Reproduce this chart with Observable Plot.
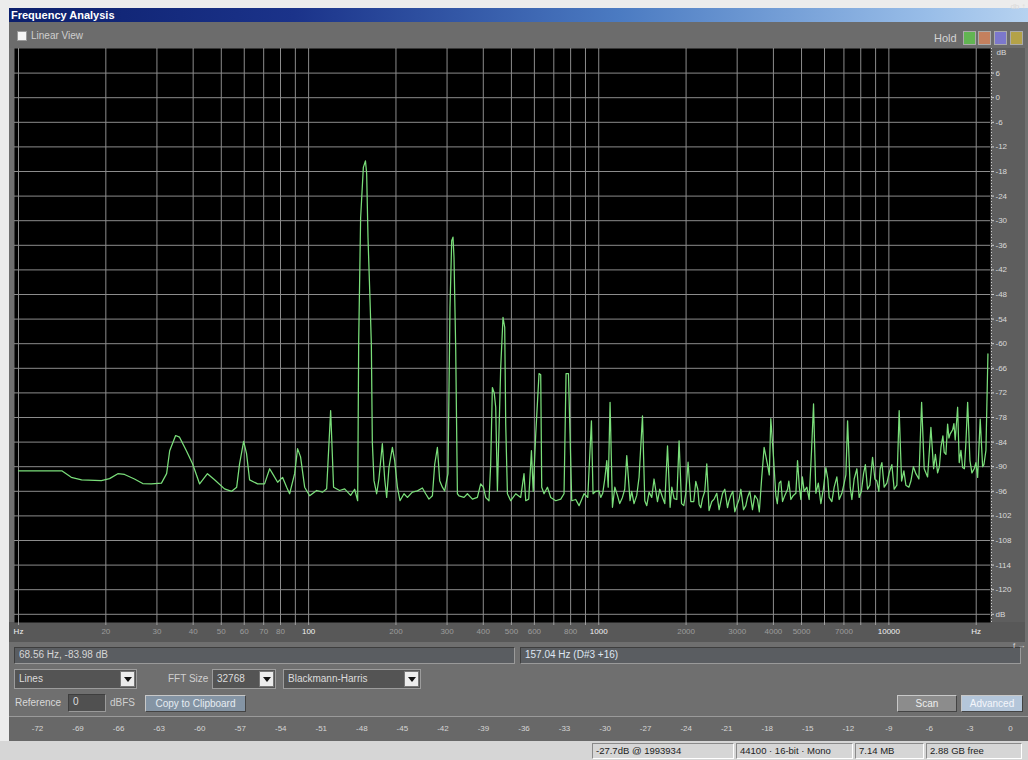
<!DOCTYPE html>
<html><head><meta charset="utf-8">
<script src="https://cdn.jsdelivr.net/npm/d3@7"></script>
<script src="https://cdn.jsdelivr.net/npm/@observablehq/plot@0.6"></script>
<style>
*{box-sizing:border-box}
html,body{margin:0;padding:0}
body{width:1028px;height:760px;overflow:hidden;position:relative;background:#ececec;font-family:"Liberation Sans",Arial,sans-serif;font-size:10px;color:#d4d4d4}
.a{position:absolute}
#win{left:9px;top:8px;width:1019px;height:733px;background:#6f6f6f}
#title{left:9px;top:8px;width:1019px;height:14px;background:linear-gradient(to right,#0c1f6c 0%,#1b338a 28%,#4b7bc2 60%,#98bde8 90%,#b6d2f0 100%);color:#fff;font-weight:bold;font-size:11px;line-height:14px;padding-left:2px}
#tool{left:9px;top:22px;width:1019px;height:26px;background:#6c6c6c}
.chk{left:17px;top:31px;width:10px;height:10px;background:#f4f4f4;border:1px solid #9a9a9a}
.lbl{white-space:nowrap;line-height:12px}
.hb{top:31px;width:13px;height:14px;border:1px solid #aaa}
#rstrip{left:990px;top:48px;width:35px;height:575px;background:#5e5e5e}
#xstrip{left:9px;top:622px;width:1016px;height:20px;background:#585858}
.box{background:#5a5d61;border-top:1px solid #3e3e3e;border-left:1px solid #3e3e3e;border-bottom:1px solid #9a9a9a;border-right:1px solid #9a9a9a;padding-left:4px;line-height:14px;white-space:nowrap}
.dd{height:20px;background:#545454;border:1px solid #9c9c9c;padding-left:4px;line-height:18px;color:#dcdcdc;white-space:nowrap}
.arr{position:absolute;right:1px;top:1px;width:15px;height:16px;background:#ececec;border:1px solid #777}
.arr:after{content:"";position:absolute;left:3px;top:5px;border-left:4px solid transparent;border-right:4px solid transparent;border-top:5px solid #111}
.btn{height:17px;line-height:15px;text-align:center;white-space:nowrap;border-top:1px solid #c8c8c8;border-left:1px solid #c8c8c8;border-bottom:1px solid #444;border-right:1px solid #444}
#meterrow{left:9px;top:716px;width:1019px;height:25px;background:#686868;border-top:1px solid #9a9a9a}
#status{left:0;top:741px;width:1028px;height:19px;background:#d6d6d6}
.sp{top:743px;height:16px;border-top:1px solid #8a8a8a;border-left:1px solid #8a8a8a;border-bottom:1px solid #fff;border-right:1px solid #fff;color:#222;padding-left:3px;line-height:14px;white-space:nowrap;font-size:9.5px}
#chart,#meter{left:0}
#chart{top:0}
#meter{top:717px}
</style></head><body>
<div class="a" id="win"></div>
<div class="a" id="rstrip"></div>
<div class="a" id="xstrip"></div>
<div class="a" id="title">Frequency Analysis</div>
<div class="a" id="tool"></div>
<div class="a chk"></div>
<div class="a lbl" style="left:31px;top:30px;color:#cfcfcf">Linear View</div>
<div class="a lbl" style="left:934px;top:32px;color:#d4d4d4;font-size:11px">Hold</div>
<div class="a hb" style="left:963px;background:#62b552"></div>
<div class="a hb" style="left:978px;background:#c4805e"></div>
<div class="a hb" style="left:994px;background:#7c78cc"></div>
<div class="a hb" style="left:1010px;background:#b4a248"></div>

<div class="a box" style="left:14px;top:647px;width:501px;height:17px;color:#d6d6d6">68.56 Hz, -83.98 dB</div>
<div class="a box" style="left:520px;top:647px;width:501px;height:17px;color:#dfe6f2">157.04 Hz (D#3 +16)</div>

<div class="a dd" style="left:14px;top:669px;width:123px">Lines<span class="arr"></span></div>
<div class="a lbl" style="left:168px;top:673px;color:#d0d0d0">FFT Size</div>
<div class="a dd" style="left:212px;top:669px;width:64px">32768<span class="arr"></span></div>
<div class="a dd" style="left:283px;top:669px;width:138px">Blackmann-Harris<span class="arr"></span></div>

<div class="a lbl" style="left:15px;top:697px;color:#d8d8d8">Reference</div>
<div class="a box" style="left:68px;top:694px;width:38px;height:18px;background:#505050;color:#ddd">0</div>
<div class="a lbl" style="left:110px;top:697px;color:#d0d0d0">dBFS</div>
<div class="a btn" style="left:145px;top:695px;width:101px;background:#8494a4;color:#e6ecf2">Copy to Clipboard</div>
<div class="a btn" style="left:897px;top:695px;width:60px;background:#8c8c8c;color:#eeeeee">Scan</div>
<div class="a btn" style="left:961px;top:695px;width:62px;background:#b4c6da;color:#f4f6fa">Advanced</div>

<div class="a" id="meterrow"></div>
<div class="a" id="status"></div>
<div class="a sp" style="left:592px;width:142px">-27.7dB @ 1993934</div>
<div class="a sp" style="left:736px;width:117px">44100 · 16-bit · Mono</div>
<div class="a sp" style="left:855px;width:69px">7.14 MB</div>
<div class="a sp" style="left:926px;width:96px">2.88 GB free</div>

<div class="a" id="chart"></div>
<div class="a" id="meter"></div>
<script>
// Spectrum (Hz, dB)
const freqHz = [10, 14.1, 15.2, 16.5, 19.3, 20.6, 22.0, 23.2, 25.1, 26.8, 28.7, 31.1, 32.4, 33.2, 34.8, 35.9, 37.9, 39.8, 42.1, 44.8, 47.4, 51.3, 54.3, 56.5, 57.8, 59.7, 61.1, 62.6, 66.7, 70.5, 73.4, 75.1, 78.2, 81.3, 84.0, 86.0, 89.5, 91.6, 93.8, 96.9, 100.8, 106.6, 111.8, 115.4, 119.1, 121.9, 127.9, 133.1,
139.6, 144.1, 147.6, 148.8, 151.1, 154.4, 157.0, 158.5, 160.2, 162.7, 164.5, 165.8, 168.0, 171.6, 174.7, 179.5, 182.9, 185.8, 189.2, 194.4, 198.0, 202.3, 206.5, 213.2, 218.9, 227.8, 237.1, 246.7, 253.2, 259.9, 267.1, 272.0, 277.9, 283.0, 289.1, 294.4, 302.2, 307.1, 311.3, 314.5, 317.0, 321.3, 325.7, 329.9, 343.2, 352.6, 366.9, 381.7, 391.8, 400.3, 407.7, 418.5, 424.2, 429.9, 436.2, 441.4, 447.4, 459.3, 467.7, 474.1, 477.9, 484.4, 497.3, 517.4, 538.3, 552.6, 560.2, 573.7, 586.1, 594.5, 606.5, 622.5, 631.0, 636.0, 647.8, 665.5, 683.2, 710.8, 739.6, 759.2, 771.4, 786.3, 796.2, 807.1, 833.1, 855.3, 890.0, 916.4, 943.6, 955.6, 976.5, 1002,
1032, 1066, 1078, 1094, 1115, 1160, 1207, 1249, 1282, 1323, 1377, 1415, 1441, 1491, 1551, 1594, 1659, 1726, 1762, 1819, 1892, 1929, 1995, 2032, 2076, 2160, 2218, 2278, 2357, 2400, 2498, 2599, 2671, 2779, 2853, 2944, 3046, 3155, 3257, 3388, 3526, 3639, 3715, 3817, 3918, 4003, 4077, 4186, 4300, 4475, 4594, 4780,
4844, 4973, 5105, 5312, 5413, 5500, 5602, 5829, 6065, 6225, 6478, 6739, 7014, 7206, 7356, 7592, 7901, 8180, 8444, 8786, 9091, 9333, 9634, 10023, 10430, 10852, 11062, 11445, 11911, 12392, 12691, 12968, 13237, 13599, 13960, 14263, 14723, 15115, 15516, 15940, 16273, 16587, 16932, 17258, 17479, 17957, 18434, 18686, 19029, 19687, 20227, 20646, 21045, 21605, 21951];
const levelDb = [-91.0, -91.0, -92.6, -93.2, -93.4, -92.9, -91.7, -91.9, -93.0, -94.1, -94.2, -94.0, -91.7, -86.1, -82.4, -82.8, -86.1, -89.3, -94.2, -91.7, -93.2, -95.4, -96.0, -95.0, -89.3, -83.8, -86.8, -93.2, -94.2, -94.2, -90.5, -91.7, -93.8, -92.6, -95.0, -96.6, -91.7, -85.6, -87.6, -95.0, -97.1, -95.8, -96.2, -95.4, -76.3, -95.0, -95.8, -95.4,
-97.0, -95.5, -98.3, -59.3, -29.3, -17.0, -15.4, -18.5, -34.1, -48.8, -60.0, -84.0, -93.4, -96.6, -93.0, -84.4, -93.0, -97.5, -90.2, -85.3, -88.6, -95.0, -98.3, -96.6, -97.5, -96.2, -95.9, -95.2, -96.6, -97.9, -97.1, -89.4, -85.3, -93.4, -95.0, -95.9, -91.7, -51.2, -34.9, -34.0, -38.9, -60.9, -96.6, -97.1, -97.5, -96.6, -97.9, -97.5, -94.2, -95.0, -97.5, -98.3, -89.4, -70.7, -72.0, -75.5, -95.9, -65.8, -53.6, -56.0, -79.6, -96.6, -98.3, -96.6, -97.5, -91.7, -98.3, -97.9, -86.1, -96.0, -82.0, -67.3, -67.6, -95.0, -96.6, -95.0, -97.5, -98.3, -97.9, -96.6, -67.3, -67.3, -82.0, -98.3, -98.0, -99.5, -96.6, -97.5, -78.8, -96.6, -96.0, -95.9,
-96.5, -88.5, -95.0, -74.3, -99.9, -97.0, -97.5, -87.3, -98.3, -99.0, -92.6, -77.6, -98.3, -96.2, -93.0, -98.5, -97.5, -84.9, -99.9, -97.8, -83.7, -99.0, -96.5, -88.9, -98.5, -93.6, -99.2, -97.8, -89.3, -100.7, -97.9, -100.5, -96.5, -100.0, -97.0, -101.0, -98.0, -100.5, -97.5, -100.5, -98.0, -93.4, -85.3, -89.5, -78.3, -87.7, -97.0, -94.0, -98.5, -95.5, -98.0, -96.5,
-88.5, -98.0, -96.0, -98.0, -86.1, -74.7, -96.5, -99.0, -90.2, -97.5, -95.0, -98.0, -94.0, -78.8, -95.0, -93.0, -97.5, -91.7, -95.5, -87.7, -93.5, -90.5, -95.0, -91.5, -95.5, -76.3, -93.5, -94.5, -93.5, -91.7, -93.0, -74.3, -90.5, -92.5, -80.4, -90.5, -91.5, -85.3, -86.5, -79.6, -82.0, -81.0, -83.5, -75.5, -89.0, -90.2, -84.0, -74.3, -88.5, -90.5, -92.6, -78.4, -90.0, -86.0, -62.5];
// additional noise-floor readings above 1 kHz
const noiseHz = [1016, 1049, 1136, 1181, 1229, 1299, 1352, 1464, 1523, 1623, 1689, 1786, 1858, 1964, 2126, 2195, 2248, 2320, 2453, 2552, 2634, 2720, 2808, 2899, 2992, 3089, 3213, 3317, 3451, 3576, 3871, 4126, 4242, 4379, 4520, 4685, 4914, 5032, 5215, 5713, 5944, 6161, 6360, 6618, 6887, 7109, 7456, 7758, 8040, 8299, 8602, 8949, 9237, 9461, 9842, 10240, 10656, 11266, 11722, 12148, 13795, 14465, 14931, 15355, 15727, 16106, 16755, 17716, 18212, 19329, 19953, 21263];
const noiseDb = [-97.5, -93.0, -95.0, -99.0, -95.5, -96.0, -97.0, -99.5, -97.5, -95.5, -99.0, -95.0, -98.0, -99.5, -98.5, -95.5, -100.0, -96.0, -98.5, -96.5, -98.5, -95.5, -98.5, -96.0, -99.5, -95.5, -99.5, -96.0, -97.0, -101.0, -92.0, -99.0, -93.5, -97.0, -93.5, -97.0, -95.0, -92.5, -95.0, -94.0, -95.5, -93.0, -98.5, -92.5, -96.5, -92.0, -98.0, -90.5, -96.0, -89.5, -94.5, -93.0, -96.0, -89.0, -94.0, -89.5, -94.5, -91.0, -95.0, -90.0, -86.0, -87.0, -90.0, -82.5, -87.0, -83.0, -79.5, -86.0, -90.5, -91.5, -89.0, -89.5];

const gridFreqs = [10, 20, 30, 40, 50, 60, 70, 80, 90, 100, 200, 300, 400, 500, 600, 700, 800, 900, 1000, 2000, 3000, 4000, 5000, 6000, 7000, 8000, 9000, 10000, 20000];
const gridDb = [6, 0, -6, -12, -18, -24, -30, -36, -42, -48, -54, -60, -66, -72, -78, -84, -90, -96, -102, -108, -114, -120, -126];
const dbTicks = [12, 6, 0, -6, -12, -18, -24, -30, -36, -42, -48, -54, -60, -66, -72, -78, -84, -90, -96, -102, -108, -114, -120, -126];
const freqLabels = [20, 30, 40, 50, 60, 70, 80, 200, 300, 400, 500, 600, 800, 2000, 3000, 4000, 5000, 7000];
const freqLabelsBright = [10, 100, 1000, 10000, 20000];
const meterTicks = [-72, -69, -66, -63, -60, -57, -54, -51, -48, -45, -42, -39, -36, -33, -30, -27, -24, -21, -18, -15, -12, -9, -6, -3, 0];

const spectrum = freqHz.map((f, i) => ({f, db: levelDb[i]}))
  .concat(noiseHz.map((f, i) => ({f, db: noiseDb[i]})))
  .sort((a, b) => a.f - b.f);
const font = "Liberation Sans, Arial, sans-serif";

const chart = Plot.plot({
  width: 1028, height: 650,
  marginTop: 48, marginBottom: 28, marginLeft: 14, marginRight: 38,
  style: {background: "transparent", fontFamily: font, fontSize: "8px", overflow: "visible"},
  x: {type: "log", domain: [10, 22050], insetLeft: 4, insetRight: 2},
  y: {domain: [-128, 12]},
  marks: [
    Plot.frame({fill: "#000"}),
    Plot.ruleX(gridFreqs, {stroke: "#8c8c8c", strokeWidth: 1}),
    Plot.ruleY(gridDb, {stroke: "#8c8c8c", strokeWidth: 1}),
    Plot.line(spectrum, {x: "f", y: "db", stroke: "#7ade7a", strokeWidth: 1.25}),
    Plot.ruleX([22050], {dx: 3, stroke: "#d0d0d0", strokeDasharray: "1,2"}),
    Plot.axisY(dbTicks.filter(d => d !== 12), {anchor: "right", tickSize: 3, tickPadding: 2, stroke: "#cfcfcf", fill: "#dadada",
      tickFormat: d => d === -126 ? "dB" : String(d)}),
    Plot.text([12], {y: d => d, frameAnchor: "right", dx: 6, dy: 4, textAnchor: "start", text: () => "dB", fill: "#dadada"}),
    Plot.axisX(gridFreqs, {anchor: "bottom", tickSize: 3, tickFormat: () => "", stroke: "#a0a0a0"}),
    Plot.text(freqLabels, {x: d => d, frameAnchor: "bottom", dy: 11, text: d => String(d), fill: "#9c9c9c"}),
    Plot.text(freqLabelsBright, {x: d => d, frameAnchor: "bottom", dy: 11, fill: "#f2f2f2",
      text: d => (d === 10 || d === 20000) ? "Hz" : String(d)})
  ]
});
document.getElementById("chart").append(chart);

const meter = Plot.plot({
  width: 1028, height: 22, margin: 0, marginLeft: 37, marginRight: 18,
  style: {background: "transparent", fontFamily: font, fontSize: "8px", overflow: "visible"},
  x: {domain: [-72, 0], axis: null},
  marks: [
    Plot.text(meterTicks, {x: d => d, text: d => String(d), fill: "#d6d6d6"})
  ]
});
document.getElementById("meter").append(meter);
</script>
</body></html>
